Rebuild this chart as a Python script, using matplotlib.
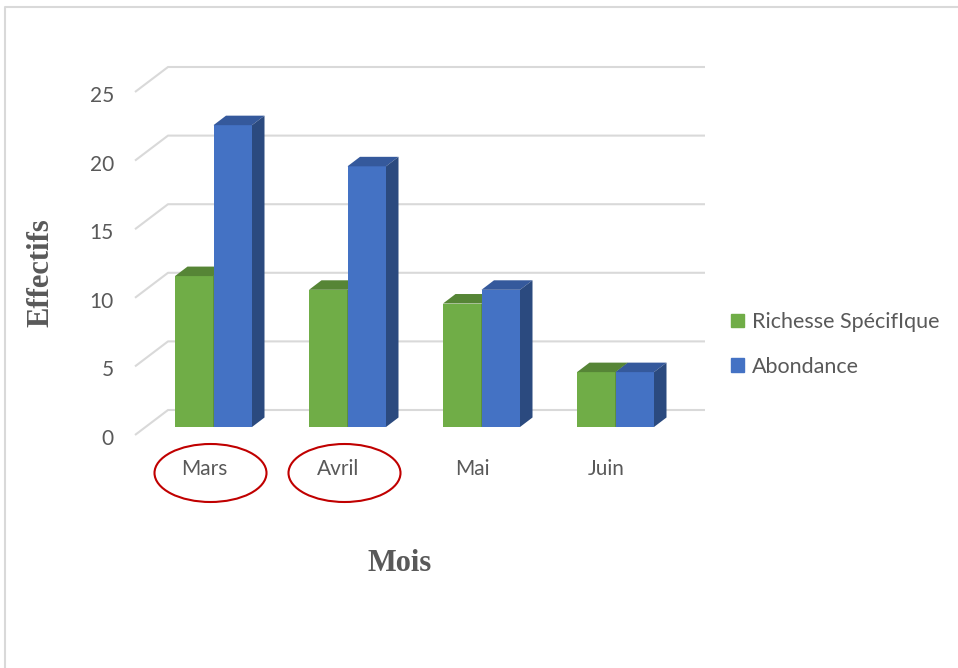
import matplotlib
matplotlib.use("Agg")
import matplotlib.pyplot as plt
from matplotlib.patches import Polygon, Ellipse, Patch
from matplotlib.lines import Line2D
from matplotlib.transforms import ScaledTranslation

# data
months = ["Mars", "Avril", "Mai", "Juin"]
richesse = [11, 10, 9, 4]
abondance = [22, 19, 10, 4]
y_ticks = [0, 5, 10, 15, 20, 25]
circled = ["Mars", "Avril"]
series_names = ["Richesse SpécifIque", "Abondance"]

# colours (front, top, side)
green = ("#70AD47", "#568536", "#4A7530")
blue = ("#4472C4", "#35599C", "#2B4A7F")
grid_col = "#D9D9D9"
text_col = "#595959"

W, H = 958, 668
fig = plt.figure(figsize=(W / 100, H / 100), dpi=100)

# pixel layout of the pseudo 3d chart
px_x = 134.0     # px per category
px_y = 13.72     # px per unit
x0_px = 213.5    # centre of first cluster
y0_px = 427.0    # bar base, from the top
left_px, right_px = 135, 705
ylo, yhi = -1.0, 26.8

ax = fig.add_axes([left_px / W,
                   1 - (y0_px - ylo * px_y) / H,
                   (right_px - left_px) / W,
                   (yhi - ylo) * px_y / H])
ax.set_xlim((left_px - x0_px) / px_x, (right_px - x0_px) / px_x)
ax.set_ylim(ylo, yhi)
ax.axis("off")
xl, xr = ax.get_xlim()


def shift(dx_px, dy_px):
    # offset in pixels (dpi = 100)
    return ax.transData + ScaledTranslation(dx_px / 100, dy_px / 100, fig.dpi_scale_trans)


# back wall grid + front diagonal
back_x = (168 - x0_px) / px_x
for v in y_ticks:
    yb = v + 17 / px_y
    yf = v - 8 / px_y
    ax.plot([xl, back_x, xr], [yf, yb, yb], color=grid_col, lw=1.5, zorder=1,
            solid_capstyle="butt", clip_on=False)
    ax.text(xl, v, str(v), transform=shift(-21, -18), ha="right", va="baseline",
            fontsize=15, family="Lato", color=text_col)

# bars
bw = 38.5 / px_x
ddx, ddy = 12.5 / px_x, 9.5 / px_y
xs = list(range(len(months)))


def bars3d(lefts, vals, cols, z):
    ax.bar(lefts, vals, width=bw, align="edge", color=cols[0], lw=0, zorder=z)
    for x, v in zip(lefts, vals):
        ax.add_patch(Polygon([(x, v), (x + bw, v), (x + bw + ddx, v + ddy), (x + ddx, v + ddy)],
                             closed=True, fc=cols[1], lw=0, zorder=z))
        ax.add_patch(Polygon([(x + bw, 0), (x + bw + ddx, ddy), (x + bw + ddx, v + ddy), (x + bw, v)],
                             closed=True, fc=cols[2], lw=0, zorder=z))


bars3d([x - bw for x in xs], richesse, green, 3)
bars3d(xs, abondance, blue, 4)

# category labels
for x, m in zip(xs, months):
    ax.text(x, 0, m, transform=shift(-9, -48), ha="center", va="baseline",
            fontsize=15, family="Lato", color=text_col)
    if m in circled:
        ax.add_patch(Ellipse((x - 3 / px_x, -46 / px_y), width=112 / px_x, height=58 / px_y,
                             fill=False, ec="#C00000", lw=1.5, clip_on=False, zorder=5))

# axis titles
fig.text(48 / W, 1 - 273 / H, "Effectifs", rotation=90, rotation_mode="anchor",
         ha="center", va="baseline", family="Liberation Serif", fontweight="bold",
         fontsize=22, color=text_col)
fig.text(400 / W, 1 - 571 / H, "Mois", ha="center", va="baseline",
         family="Liberation Serif", fontweight="bold", fontsize=22, color=text_col)

# legend
handles = [Patch(color=green[0]), Patch(color=blue[0])]
fig.legend(handles, series_names, loc="upper left", bbox_to_anchor=(731 / W, 1 - 312 / H),
           frameon=False, handlelength=0.6, handleheight=0.6, handletextpad=0.38,
           labelspacing=1.15, borderpad=0, borderaxespad=0,
           prop=dict(family="Lato", size=15.5), labelcolor=text_col)

# chart area border (cut at the right and bottom)
fig.add_artist(Line2D([4.5 / W, 4.5 / W, 1.0], [0.0, 1 - 6.5 / H, 1 - 6.5 / H],
                      transform=fig.transFigure, color=grid_col, lw=1.5))

fig.savefig("out.png", dpi=100)
